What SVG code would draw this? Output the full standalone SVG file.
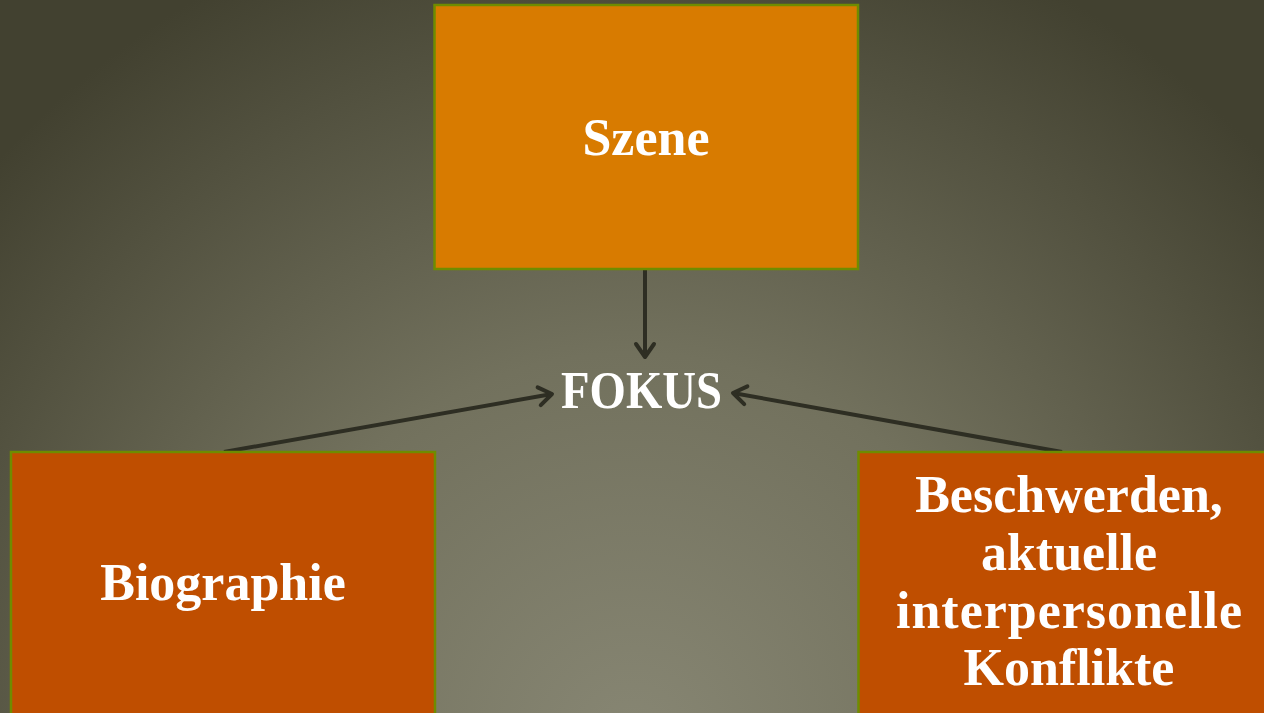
<svg xmlns="http://www.w3.org/2000/svg" width="1264" height="713" viewBox="0 0 1264 713">
<defs>
<radialGradient id="bg" gradientUnits="userSpaceOnUse" cx="632" cy="740" r="860" fx="632" fy="740">
<stop offset="0" stop-color="#878673"/>
<stop offset="0.45" stop-color="#72715d"/>
<stop offset="1" stop-color="#424130"/>
</radialGradient>
<marker id="arr" viewBox="0 0 24 24" refX="20" refY="12" markerWidth="24" markerHeight="24" markerUnits="userSpaceOnUse" orient="auto">
<path d="M7,3 L20,12 L7,21" fill="none" stroke="#2e2e23" stroke-width="4" stroke-linecap="round" stroke-linejoin="round"/>
</marker>
</defs>
<style>
.box{stroke:#6f8c00;stroke-width:2.5}
.top{fill:#d87b00}
.bot{fill:#bf4e00}
.t{font-family:"Liberation Serif","Times New Roman",serif;font-weight:bold;fill:#ffffff;text-anchor:middle;font-size:52px}
.c{fill:none;stroke:#2e2e23;stroke-width:4;marker-end:url(#arr)}
</style>
<rect x="0" y="0" width="1264" height="713" fill="url(#bg)"/>
<g id="connectors">
<path class="c" d="M645,270 L645,357"/>
<path class="c" d="M224,452 L552,394"/>
<path class="c" d="M1062,452 L733,393"/>
</g>
<g id="szene">
<rect class="box top" x="434.5" y="5" width="423.5" height="264"/>
<text class="t" x="646" y="155">Szene</text>
</g>
<g id="fokus">
<text class="t" x="641.5" y="408" font-size="50" textLength="161" lengthAdjust="spacingAndGlyphs">FOKUS</text>
</g>
<g id="biographie">
<rect class="box bot" x="11" y="452" width="424" height="270"/>
<text class="t" x="223" y="600">Biographie</text>
</g>
<g id="beschwerden">
<rect class="box bot" x="858.5" y="452" width="424" height="270"/>
<text class="t" x="1069" y="512">Beschwerden,</text>
<text class="t" x="1069" y="570">aktuelle</text>
<text class="t" x="1069" y="628" textLength="346" lengthAdjust="spacing">interpersonelle</text>
<text class="t" x="1069" y="685">Konflikte</text>
</g>
</svg>
